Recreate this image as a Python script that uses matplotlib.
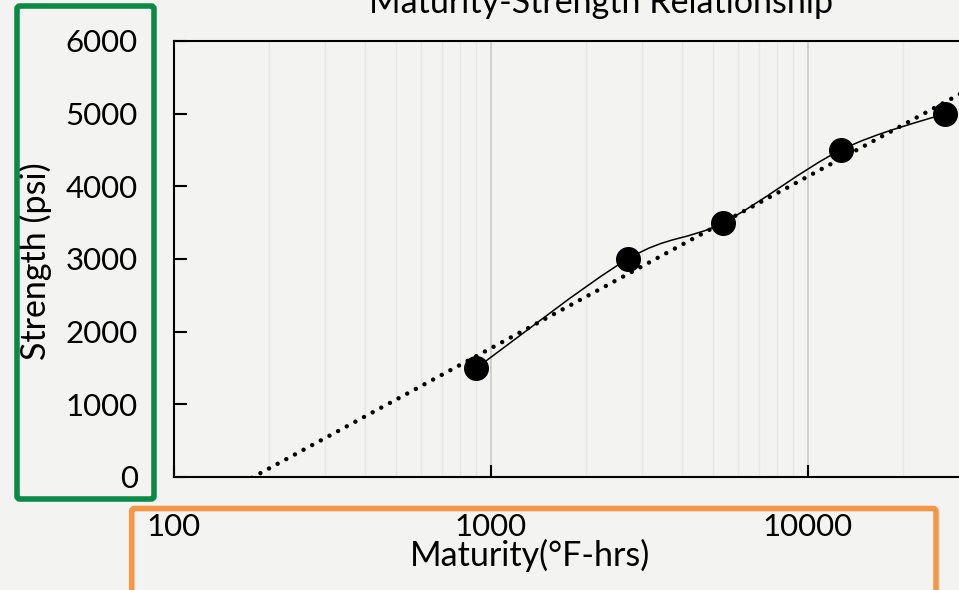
import numpy as np
import matplotlib.pyplot as plt
from matplotlib.path import Path
from matplotlib.patches import PathPatch, FancyBboxPatch
from matplotlib.ticker import FixedLocator, NullFormatter

# data
maturity = [900, 2700, 5400, 12700, 27000]      # °F-hrs
strength = [1500, 3000, 3500, 4500, 5000]       # psi

x_ticks = [100, 1000, 10000]
x_tick_labels = ['100', '1000', '10000']
y_ticks = [0, 1000, 2000, 3000, 4000, 5000, 6000]

plt.rcParams['font.family'] = ['Lato', 'DejaVu Sans']

fig = plt.figure(figsize=(9.59, 5.90), dpi=100)
fig.patch.set_facecolor('#f3f3f1')

# plot area runs past the right edge (cropped picture)
ax = fig.add_axes([174/959, 1 - 477/590, 951/959, 436/590])
ax.set_facecolor('none')
ax.set_xscale('log')
ax.set_xlim(100, 100000)
ax.set_ylim(0, 6000)

# vertical gridlines
ax.grid(True, which='minor', axis='x', color='#e6e6e6', lw=1.0)
ax.grid(True, which='major', axis='x', color='#c9c9c9', lw=1.2)
ax.grid(False, axis='y')

# log trendline (least squares of strength on log10 maturity)
lx = np.log10(maturity)
k, b = np.polyfit(lx, strength, 1)
xt = np.array([100, 100000])
ax.plot(xt, k*np.log10(xt) + b, color='black', lw=3.2,
        linestyle=(0, (0.01, 2.2)), dash_capstyle='round', zorder=3)

# smoothed connecting line (Bezier through the points, in log-x space)
px = np.log10(maturity)
py = np.array(strength, dtype=float)
n = len(px)
verts = [(10**px[0], py[0])]
codes = [Path.MOVETO]
for i in range(n - 1):
    i0 = max(i - 1, 0)
    i3 = min(i + 2, n - 1)
    c1 = (px[i] + (px[i+1] - px[i0]) / 6, py[i] + (py[i+1] - py[i0]) / 6)
    c2 = (px[i+1] - (px[i3] - px[i]) / 6, py[i+1] - (py[i3] - py[i]) / 6)
    verts += [(10**c1[0], c1[1]), (10**c2[0], c2[1]), (10**px[i+1], py[i+1])]
    codes += [Path.CURVE4] * 3
ax.add_patch(PathPatch(Path(verts, codes), fill=False, edgecolor='black',
                       lw=1.1, zorder=3))

ax.plot(maturity, strength, 'o', ms=17, color='black', zorder=4)

# axes styling
for s in ['left', 'bottom', 'top']:
    ax.spines[s].set_linewidth(1.5)
    ax.spines[s].set_color('black')
ax.spines['right'].set_visible(False)

ax.xaxis.set_major_locator(FixedLocator(x_ticks))
ax.set_xticklabels(x_tick_labels)
ax.xaxis.set_minor_formatter(NullFormatter())
ax.set_yticks(y_ticks)
ax.tick_params(axis='both', which='major', direction='in', length=9,
               width=1.5, labelsize=22.5, pad=26)
ax.tick_params(axis='both', which='minor', length=0)

ax.set_xlabel('Maturity(°F-hrs)', fontsize=24.5)
ax.xaxis.set_label_coords((530 - 174) / 951, -0.143)
ax.set_ylabel('Strength (psi)', fontsize=24.5)
ax.yaxis.set_label_coords(-0.128, 0.495)

fig.text(601/959, 1 - 13/590, 'Maturity-Strength Relationship',
         ha='center', va='baseline', fontsize=24.5)

# highlight boxes (inches)
green = FancyBboxPatch((0.17, 0.91), 1.37, 4.93,
                       boxstyle='round,pad=0,rounding_size=0.03',
                       transform=fig.dpi_scale_trans, fill=False,
                       edgecolor='#0a8a44', lw=4)
orange = FancyBboxPatch((1.317, -0.3), 8.043, (590 - 508.5) / 100 + 0.3,
                        boxstyle='round,pad=0,rounding_size=0.03',
                        transform=fig.dpi_scale_trans, fill=False,
                        edgecolor='#f79646', lw=4)
fig.add_artist(green)
fig.add_artist(orange)

fig.savefig('out.png', dpi=100, facecolor=fig.get_facecolor())
